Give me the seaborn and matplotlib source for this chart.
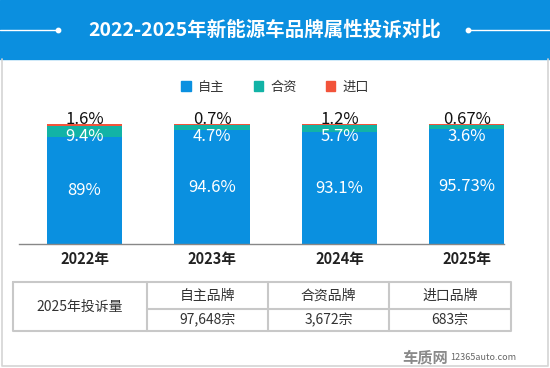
import matplotlib
matplotlib.use("Agg")
import matplotlib.pyplot as plt
import seaborn as sns
import pandas as pd
from matplotlib.patches import Rectangle, Patch

# 데이터
years = ["2022年", "2023年", "2024年", "2025年"]
domestic = [89, 94.6, 93.1, 95.73]
joint = [9.4, 4.7, 5.7, 3.6]
imported = [1.6, 0.7, 1.2, 0.67]
domestic_lbl = ["89%", "94.6%", "93.1%", "95.73%"]
joint_lbl = ["9.4%", "4.7%", "5.7%", "3.6%"]
imported_lbl = ["1.6%", "0.7%", "1.2%", "0.67%"]
series_names = ["自主", "合资", "进口"]
table_head = ["自主品牌", "合资品牌", "进口品牌"]
table_vals = ["97,648宗", "3,672宗", "683宗"]
table_row_title = "2025年投诉量"
title = "2022-2025年新能源车品牌属性投诉对比"

BLUE = "#0a90e0"
TEAL = "#12b3a6"
RED = "#f2533a"
HEAD = "#0b8fdf"

sns.set_theme(style="white")
plt.rcParams["font.family"] = ["Noto Sans CJK SC", "DejaVu Sans"]

df = pd.DataFrame({"year": years, "d": domestic, "j": joint, "i": imported})
df["dj"] = df["d"] + df["j"]
df["total"] = df["dj"] + df["i"]

W, H = 550, 368
fig = plt.figure(figsize=(W / 100, H / 100), dpi=100)

# 배경용 오버레이 (픽셀 좌표)
bg = fig.add_axes([0, 0, 1, 1])
bg.set_xlim(0, W)
bg.set_ylim(H, 0)
bg.axis("off")
bg.add_patch(Rectangle((0, 0), W, 59, color=HEAD, zorder=0))
bg.plot([0, 58], [30, 30], color="white", lw=1)
bg.plot([468, W], [30, 30], color="white", lw=1)
bg.scatter([58, 468], [30, 30], s=10, color="white", zorder=3)
bg.text(265, 30, title, color="white", fontsize=14, fontweight="bold",
        ha="center", va="center")
# 외곽선
bg.plot([1.5, 1.5, 548, 548], [59, 366, 366, 59], color="#d4d4d4", lw=1.2)

# 표
gc = "#c8c8c8"
x0, x1, x2, x3, x4 = 13, 147, 268, 389, 511
y0, y1, y2 = 282, 309, 331
bg.plot([x0, x4, x4, x0, x0], [y0, y0, y2, y2, y0], color=gc, lw=1.5)
for xx in (x1, x2, x3):
    bg.plot([xx, xx], [y0, y2], color=gc, lw=1.5)
bg.plot([x1, x4], [y1, y1], color=gc, lw=1.5)
bg.text((x0 + x1) / 2, (y0 + y2) / 2, table_row_title, fontsize=10,
        color="#333333", ha="center", va="center")
cols = [(x1 + x2) / 2, (x2 + x3) / 2, (x3 + x4) / 2]
for cx, h, v in zip(cols, table_head, table_vals):
    bg.text(cx, (y0 + y1) / 2, h, fontsize=10, color="#333333", ha="center", va="center")
    bg.text(cx, (y1 + y2) / 2, v, fontsize=10, color="#333333", ha="center", va="center")

# 워터마크
bg.text(425, 357, "车质网", fontsize=11, fontweight="bold", color="#8a8a8a",
        ha="center", va="center")
bg.text(483, 358, "12365auto.com", fontsize=6.5, color="#666666",
        ha="center", va="center")

# 막대 그래프 (누적값을 뒤에서부터 겹쳐 그림)
ax = fig.add_axes([19 / W, 124 / H, 485 / W, 120 / H])
for col, c in (("total", RED), ("dj", TEAL), ("d", BLUE)):
    sns.barplot(data=df, x="year", y=col, color=c, width=0.59, ax=ax,
                saturation=1, linewidth=0, edgecolor="none", zorder=2)
ax.set_ylim(0, 100)
ax.set_xlim(-0.514, 3.29)
ax.set_xlabel("")
ax.set_ylabel("")
ax.set_yticks([])
for s in ("top", "left", "right"):
    ax.spines[s].set_visible(False)
ax.spines["bottom"].set_color("#888888")
ax.spines["bottom"].set_linewidth(1)
ax.tick_params(axis="x", length=0, pad=5)
for t in ax.get_xticklabels():
    t.set_fontsize(10.5)
    t.set_fontweight("semibold")
    t.set_color("#222222")

for i in range(len(years)):
    ax.text(i, df["d"][i] / 2, domestic_lbl[i], color="white", fontsize=12,
            ha="center", va="center")
    ax.annotate(joint_lbl[i], (i, 100), xytext=(0, -9), textcoords="offset points",
                color="white", fontsize=12, ha="center", va="center")
    ax.annotate(imported_lbl[i], (i, df["total"][i]), xytext=(0, 3.5),
                textcoords="offset points", color="#111111", fontsize=12,
                ha="center", va="center", annotation_clip=False)

handles = [Patch(color=c) for c in (BLUE, TEAL, RED)]
fig.legend(handles, series_names, loc="center", bbox_to_anchor=(275 / W, 1 - 87 / H),
           ncol=3, frameon=False, fontsize=9.5, handlelength=0.75, handleheight=0.75,
           handletextpad=0.5, columnspacing=2.2, labelcolor="#333333")

fig.savefig("out.png", dpi=100)
